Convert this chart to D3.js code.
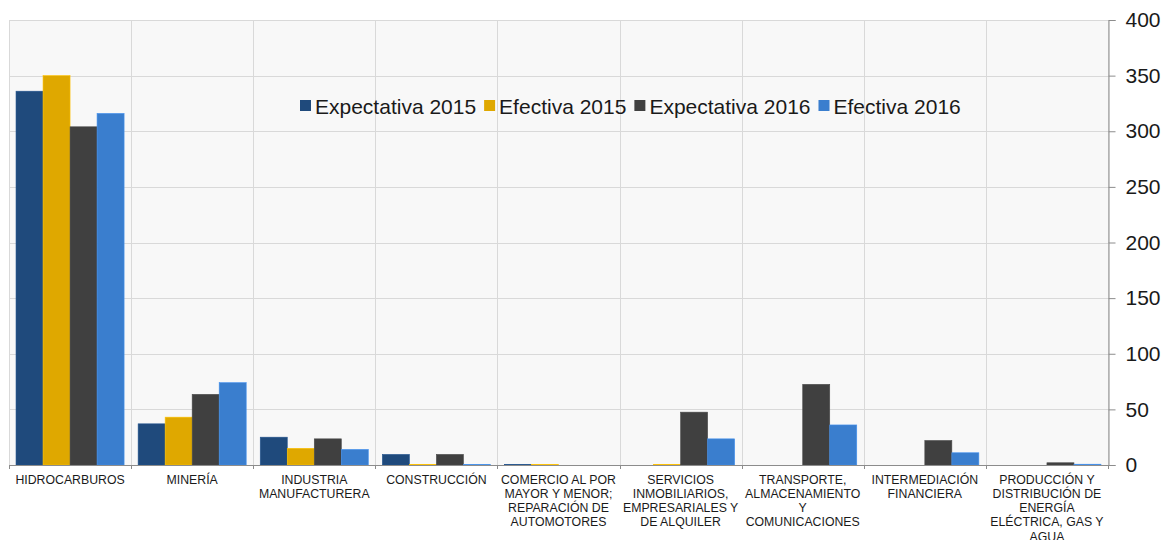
<!DOCTYPE html>
<html>
<head>
<meta charset="utf-8">
<script src="https://cdn.jsdelivr.net/npm/d3@7"></script>
<style>
  html, body { margin: 0; padding: 0; background: #ffffff; }
  svg { display: block; font-family: "Liberation Sans", Arial, sans-serif; }
</style>
</head>
<body>
<svg id="chart" width="1164" height="540"></svg>
<script>
const categories = [
  "HIDROCARBUROS", "MINERÍA", "INDUSTRIA MANUFACTURERA", "CONSTRUCCIÓN",
  "COMERCIO AL POR MAYOR Y MENOR; REPARACIÓN DE AUTOMOTORES",
  "SERVICIOS INMOBILIARIOS, EMPRESARIALES Y DE ALQUILER",
  "TRANSPORTE, ALMACENAMIENTO Y COMUNICACIONES",
  "INTERMEDIACIÓN FINANCIERA",
  "PRODUCCIÓN Y DISTRIBUCIÓN DE ENERGÍA ELÉCTRICA, GAS Y AGUA"
];
const categoryLines = [
  ["HIDROCARBUROS"],
  ["MINERÍA"],
  ["INDUSTRIA", "MANUFACTURERA"],
  ["CONSTRUCCIÓN"],
  ["COMERCIO AL POR", "MAYOR Y MENOR;", "REPARACIÓN DE", "AUTOMOTORES"],
  ["SERVICIOS", "INMOBILIARIOS,", "EMPRESARIALES Y", "DE ALQUILER"],
  ["TRANSPORTE,", "ALMACENAMIENTO", "Y", "COMUNICACIONES"],
  ["INTERMEDIACIÓN", "FINANCIERA"],
  ["PRODUCCIÓN Y", "DISTRIBUCIÓN DE", "ENERGÍA", "ELÉCTRICA, GAS Y", "AGUA"]
];
const seriesNames = ["Expectativa 2015", "Efectiva 2015", "Expectativa 2016", "Efectiva 2016"];
const expectativa2015 = [336, 37, 25, 9.5, 0.5, 0, 0, 0, 0];
const efectiva2015    = [350, 43, 15, 0.5, 0.4, 0.5, 0, 0, 0];
const expectativa2016 = [304, 63.5, 23.5, 9.5, 0, 47.5, 72.5, 22, 2];
const efectiva2016    = [316, 74, 14, 0.4, 0, 23.5, 36, 11, 0.7];
const yTicks = [0, 50, 100, 150, 200, 250, 300, 350, 400];
const colors = ["#1f4a7c", "#dfa800", "#404040", "#3a7ece"];

const seriesValues = [expectativa2015, efectiva2015, expectativa2016, efectiva2016];

const svg = d3.select("#chart");
const plotLeft = 9, plotRight = 1108, plotTop = 20, plotBottom = 465;

const x = d3.scaleBand().domain(categories).range([plotLeft, plotRight]).paddingInner(0).paddingOuter(0);
const xs = d3.scaleBand().domain(seriesNames).range([0, x.bandwidth()]).paddingInner(0).paddingOuter(0.26);
const y = d3.scaleLinear().domain([0, 400]).range([plotBottom, plotTop]);

// plot background
svg.append("rect").attr("x", plotLeft).attr("y", plotTop).attr("width", plotRight - plotLeft).attr("height", plotBottom - plotTop)
  .attr("fill", "#f8f8f8");

// horizontal grid
svg.append("g").selectAll("line").data(yTicks).join("line")
  .attr("x1", plotLeft).attr("x2", plotRight)
  .attr("y1", d => Math.round(y(d)) + 0.5).attr("y2", d => Math.round(y(d)) + 0.5)
  .attr("stroke", "#d9d9d9").attr("stroke-width", 1);

// vertical grid (category separators)
const seps = categories.map(c => x(c)).concat([plotRight]);
svg.append("g").selectAll("line").data(seps).join("line")
  .attr("x1", d => Math.round(d) + 0.5).attr("x2", d => Math.round(d) + 0.5)
  .attr("y1", plotTop).attr("y2", plotBottom)
  .attr("stroke", "#d9d9d9").attr("stroke-width", 1);

// bars
const groups = svg.append("g").selectAll("g").data(categories).join("g")
  .attr("transform", c => `translate(${x(c)},0)`);
groups.selectAll("rect").data((c, i) => seriesNames.map((s, j) => ({ s, j, v: seriesValues[j][i] })))
  .join("rect")
  .attr("x", d => xs(d.s))
  .attr("width", xs.bandwidth())
  .attr("y", d => y(d.v))
  .attr("height", d => Math.max(0, y(0) - y(d.v)))
  .attr("fill", d => colors[d.j])
  .attr("stroke", d => d3.color(colors[d.j]).brighter(0.4))
  .attr("stroke-width", 0.6);

// x axis
const xAxisG = svg.append("g").attr("transform", `translate(0,${plotBottom})`);
xAxisG.append("line").attr("x1", plotLeft).attr("x2", plotRight).attr("y1", 0.5).attr("y2", 0.5)
  .attr("stroke", "#8c8c8c");
xAxisG.selectAll("line.tick").data(seps).join("line").attr("class", "tick")
  .attr("x1", d => Math.round(d) + 0.5).attr("x2", d => Math.round(d) + 0.5)
  .attr("y1", 0).attr("y2", 4).attr("stroke", "#8c8c8c");

// category labels
const labels = svg.append("g").selectAll("text").data(categories).join("text")
  .attr("x", c => x(c) + x.bandwidth() / 2)
  .attr("y", 483.5)
  .attr("text-anchor", "middle")
  .attr("font-size", 12.3)
  .attr("fill", "#1a1a1a");
labels.each(function (c, i) {
  d3.select(this).selectAll("tspan").data(categoryLines[i]).join("tspan")
    .attr("x", x(c) + x.bandwidth() / 2)
    .attr("dy", (d, k) => k === 0 ? 0 : 14.3)
    .text(d => d);
});

// y axis on the right
const yAxis = d3.axisRight(y).tickValues(yTicks).tickSize(7).tickPadding(10).tickFormat(d3.format("d"));
const yG = svg.append("g").attr("transform", `translate(${plotRight + 0.5},0)`).call(yAxis);
yG.select(".domain").attr("stroke", "#8c8c8c");
yG.selectAll(".tick line").attr("stroke", "#8c8c8c");
yG.selectAll(".tick text").attr("font-size", 21).attr("fill", "#1a1a1a")
  .attr("font-family", "'Liberation Sans', Arial, sans-serif");

// legend (sequential layout)
const lg = svg.append("g").attr("transform", "translate(300,106)");
let cursor = 0;
seriesNames.forEach((name, i) => {
  const item = lg.append("g").attr("transform", `translate(${cursor},0)`);
  item.append("rect").attr("x", 0).attr("y", -6).attr("width", 11).attr("height", 11)
    .attr("fill", colors[i]);
  const t = item.append("text").attr("x", 15).attr("y", 7.5)
    .attr("font-size", 21).attr("fill", "#1a1a1a").text(name);
  cursor += 15 + t.node().getComputedTextLength() + 8;
});
</script>
</body>
</html>
